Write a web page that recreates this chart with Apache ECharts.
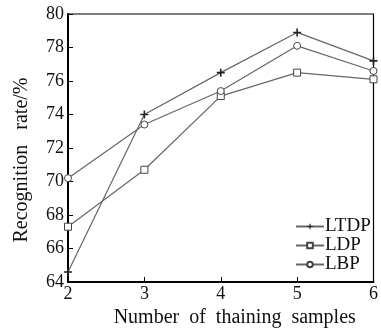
<!DOCTYPE html>
<html>
<head>
<meta charset="utf-8">
<script src="https://cdn.jsdelivr.net/npm/echarts@6/dist/echarts.min.js"></script>
<style>
html,body{margin:0;padding:0;background:#fff;}
#chart{width:381px;height:333px;}
</style>
</head>
<body>
<div id="chart"></div>
<script>
// 训练样本数
var samples = [2, 3, 4, 5, 6];
// 识别率 %
var ltdp = [64.6, 74.0, 76.5, 78.9, 77.2];
var ldp = [67.3, 70.7, 75.1, 76.5, 76.1];
var lbp = [70.2, 73.4, 75.4, 78.1, 76.6];
var seriesNames = ['LTDP', 'LDP', 'LBP'];

function pairs(arr){
	var out = [];
	for(var i=0;i<samples.length;i++){
		out.push([samples[i], arr[i]]);
	}
	return out;
}

var font = '"Liberation Serif", "DejaVu Serif", serif';
var plusPath = 'path://M4,0H6V4H10V6H6V10H4V6H0V4H4Z';

var chart = echarts.init(document.getElementById('chart'));
var option = {
	animation: false,
	grid: {
		left: 68, right: 4, top: 14, bottom: 47,
		show: true, borderColor: '#000', borderWidth: 1.2
	},
	legend: {
		orient: 'vertical',
		left: 290, top: 212,
		itemWidth: 28, itemHeight: 7,
		itemGap: 0,
		textStyle: {fontFamily: font, fontSize: 19, lineHeight: 18, color: '#111', padding: [0,0,0,-4]},
		data: seriesNames
	},
	xAxis: {
		type: 'value',
		min: 2, max: 6, interval: 1,
		name: 'Number  of  thaining  samples',
		nameLocation: 'middle',
		nameGap: 26,
		nameTextStyle: {fontFamily: font, fontSize: 20, color: '#111', padding: [0,0,0,28]},
		axisLine: {lineStyle: {color: '#000', width: 2}},
		axisTick: {inside: true, length: 5, lineStyle: {color: '#000'}},
		axisLabel: {fontFamily: font, fontSize: 18, color: '#111', margin: 3},
		splitLine: {show: false}
	},
	yAxis: {
		type: 'value',
		min: 64, max: 80, interval: 2,
		name: 'Recognition   rate/%',
		nameLocation: 'middle',
		nameGap: 36,
		nameTextStyle: {fontFamily: font, fontSize: 20, color: '#111', padding: [0,24,0,0]},
		axisLine: {lineStyle: {color: '#000', width: 2}},
		axisTick: {inside: true, length: 5, lineStyle: {color: '#000'}},
		axisLabel: {fontFamily: font, fontSize: 18, color: '#111', margin: 4},
		splitLine: {show: false}
	},
	series: [
		{
			name: 'LTDP', type: 'line', data: pairs(ltdp),
			symbol: plusPath, symbolSize: 8,
			lineStyle: {color: '#666', width: 1.2},
			itemStyle: {color: '#222', borderWidth: 0}
		},
		{
			name: 'LDP', type: 'line', data: pairs(ldp),
			symbol: 'rect', symbolSize: 7,
			lineStyle: {color: '#666', width: 1.2},
			itemStyle: {color: '#fff', borderColor: '#444', borderWidth: 1}
		},
		{
			name: 'LBP', type: 'line', data: pairs(lbp),
			symbol: 'circle', symbolSize: 7,
			lineStyle: {color: '#666', width: 1.2},
			itemStyle: {color: '#fff', borderColor: '#444', borderWidth: 1}
		}
	]
};
chart.setOption(option);
</script>
</body>
</html>
